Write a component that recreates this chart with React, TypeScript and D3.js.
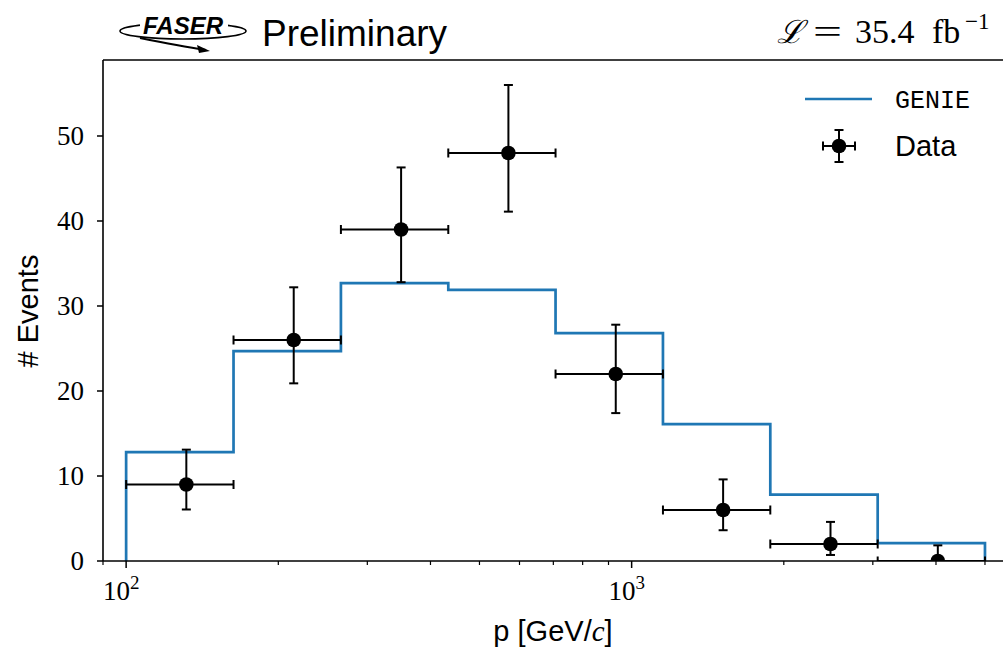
import React from "react";
import * as d3 from "d3";

const binEdges = [100, 163.1, 266.0, 433.8, 707.1, 1153.3, 1880.6, 3067.1, 5000];
const genie = [12.8, 24.7, 32.7, 31.9, 26.8, 16.1, 7.8, 2.1];
const dataCounts = [9, 26, 39, 48, 22, 6, 2, 0];
const dataLow = [6.06, 20.9, 32.8, 41.1, 17.4, 3.62, 0.71, 0];
const dataHigh = [13.1, 32.2, 46.3, 56.0, 27.8, 9.6, 4.6, 1.84];
const yTicks = [0, 10, 20, 30, 40, 50];
const xMajor = [100, 1000];
const xMajorExp = ["2", "3"];
const xMinor = [90, 200, 300, 400, 500, 600, 700, 800, 900, 2000, 3000, 4000, 5000, 6000];

const W = 1003, H = 650;
const L = 103, R = 1025, T = 60, B = 561;
const BLUE = "#1f77b4";

export default function App() {
  const x = d3.scaleLog().domain([90, 6000]).range([L, R]);
  const y = d3.scaleLinear().domain([0, 58.94]).range([B, T]);

  const pts: [number, number][] = [[binEdges[0], 0]];
  genie.forEach((v, i) => {
    pts.push([binEdges[i], v]);
    pts.push([binEdges[i + 1], v]);
  });
  pts.push([binEdges[binEdges.length - 1], 0]);
  const stepPath = d3.line<[number, number]>().x(d => x(d[0])).y(d => y(d[1]))(pts) || "";

  const serif = "'Liberation Serif', 'DejaVu Serif', serif";
  const sans = "'Liberation Sans', Arial, sans-serif";
  const cap = 4.5;

  return (
    <svg width={W} height={H} style={{ position: "absolute", left: 0, top: 0, background: "#fff" }}>
      <defs>
        <clipPath id="plotclip">
          <rect x={L} y={T} width={R - L} height={B - T} />
        </clipPath>
      </defs>
      <rect x={0} y={0} width={W} height={H} fill="#fff" />

      <g clipPath="url(#plotclip)">
        <path d={stepPath} fill="none" stroke={BLUE} strokeWidth={2.7} strokeLinejoin="miter" />
        {dataCounts.map((c, i) => {
          const lo = binEdges[i], hi = binEdges[i + 1];
          const cx = x((lo + hi) / 2);
          const cy = y(c);
          const x0 = x(lo), x1 = x(hi);
          const yl = y(dataLow[i]), yh = y(dataHigh[i]);
          return (
            <g key={i} stroke="#000" strokeWidth={2}>
              <line x1={x0} x2={x1} y1={cy} y2={cy} />
              <line x1={x0} x2={x0} y1={cy - cap} y2={cy + cap} />
              <line x1={x1} x2={x1} y1={cy - cap} y2={cy + cap} />
              <line x1={cx} x2={cx} y1={yl} y2={yh} />
              <line x1={cx - cap} x2={cx + cap} y1={yh} y2={yh} />
              <line x1={cx - cap} x2={cx + cap} y1={yl} y2={yl} />
              <circle cx={cx} cy={cy} r={7.3} fill="#000" stroke="none" />
            </g>
          );
        })}
      </g>

      <g stroke="#000" strokeWidth={1.6} fill="none">
        <line x1={L} x2={R} y1={T} y2={T} />
        <line x1={L} x2={R} y1={B} y2={B} />
        <line x1={L} x2={L} y1={T} y2={B} />
        <line x1={R} x2={R} y1={T} y2={B} />
      </g>

      {yTicks.map(t => (
        <g key={t}>
          <line x1={L - 6} x2={L} y1={y(t)} y2={y(t)} stroke="#000" strokeWidth={1.5} />
          <text x={L - 19} y={y(t) + 9} textAnchor="end" fontFamily={serif} fontSize={27} fill="#000">{t}</text>
        </g>
      ))}

      {xMinor.map(t => (
        <line key={t} x1={x(t)} x2={x(t)} y1={B} y2={B + 4} stroke="#000" strokeWidth={1.2} />
      ))}
      {xMajor.map((t, i) => (
        <g key={t}>
          <line x1={x(t)} x2={x(t)} y1={B} y2={B + 7} stroke="#000" strokeWidth={1.5} />
          <text x={x(t) - 5} y={600} textAnchor="middle" fontFamily={serif} fontSize={27} fill="#000">
            10<tspan dy={-11} fontSize={19}>{xMajorExp[i]}</tspan>
          </text>
        </g>
      ))}

      <text x={553} y={641} textAnchor="middle" fontFamily={sans} fontSize={29} fill="#000">
        p [GeV/<tspan fontFamily={serif} fontStyle="italic">c</tspan>]
      </text>
      <text transform="translate(38,311) rotate(-90)" textAnchor="middle" fontFamily={sans} fontSize={29} fill="#000">
        # Events
      </text>

      {/* FASER logo */}
      <g>
        <ellipse cx={183} cy={31} rx={63} ry={8} fill="none" stroke="#000" strokeWidth={1.6} />
        <path d="M140,38 Q180,46 206,50" fill="none" stroke="#000" strokeWidth={2} />
        <path d="M210,51 L197,45 L199,53 Z" fill="#000" />
        <rect x={140} y={14} width={88} height={21} fill="#fff" />
        <text x={143} y={34} textLength={80} lengthAdjust="spacingAndGlyphs" fontFamily={sans} fontWeight="bold" fontStyle="italic" fontSize={24} fill="#000">FASER</text>
      </g>
      <text x={262} y={46} fontFamily={sans} fontSize={37} fill="#000">Preliminary</text>

      {/* luminosity */}
      <g fontFamily={serif} fontSize={34} fill="#000">
        <text x={777} y={43} fontFamily="'DejaVu Serif', serif" fontStyle="italic" fontSize={32}>ℒ</text>
        <text x={813} y={43} textLength={29} lengthAdjust="spacingAndGlyphs">=</text>
        <text x={855} y={43}>35.4</text>
        <text x={932} y={43}>fb</text>
        <text x={965} y={29} fontSize={23}>−1</text>
      </g>

      {/* legend */}
      <line x1={805} x2={872} y1={99} y2={99} stroke={BLUE} strokeWidth={2.7} />
      <text x={895} y={108} fontFamily="'Liberation Mono', 'DejaVu Sans Mono', monospace" fontSize={25} fill="#000">GENIE</text>
      <g stroke="#000" strokeWidth={2}>
        <line x1={823} x2={855} y1={146} y2={146} />
        <line x1={823} x2={823} y1={146 - cap} y2={146 + cap} />
        <line x1={855} x2={855} y1={146 - cap} y2={146 + cap} />
        <line x1={839} x2={839} y1={130} y2={162} />
        <line x1={839 - cap} x2={839 + cap} y1={130} y2={130} />
        <line x1={839 - cap} x2={839 + cap} y1={162} y2={162} />
        <circle cx={839} cy={146} r={7.3} fill="#000" stroke="none" />
      </g>
      <text x={895} y={156} fontFamily={sans} fontSize={29} fill="#000">Data</text>
    </svg>
  );
}
